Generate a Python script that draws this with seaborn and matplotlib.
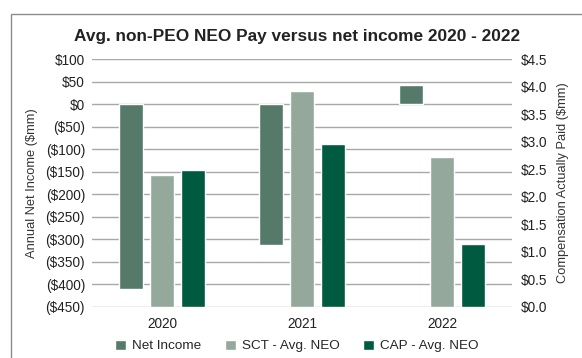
import numpy as np
import pandas as pd
import seaborn as sns
import matplotlib.pyplot as plt
from matplotlib.patches import Rectangle
from matplotlib.ticker import FuncFormatter

years = ['2020', '2021', '2022']
net_income = [-410, -312, 42]        # $mm, left axis
sct_avg_neo = [2.40, 3.92, 2.72]     # $mm, right axis
cap_avg_neo = [2.49, 2.96, 1.15]     # $mm, right axis
series = ['Net Income', 'SCT - Avg. NEO', 'CAP - Avg. NEO']
colors = {'Net Income': '#557a6a', 'SCT - Avg. NEO': '#94a89c', 'CAP - Avg. NEO': '#005a40'}

nan = [np.nan] * len(years)
df_left = pd.DataFrame({
    'year': years * 3,
    'series': np.repeat(series, len(years)),
    'value': net_income + nan + nan,
})
df_right = pd.DataFrame({
    'year': years * 3,
    'series': np.repeat(series, len(years)),
    'value': nan + sct_avg_neo + cap_avg_neo,
})

sns.set_style('white')
plt.rcParams['font.family'] = ['Liberation Sans', 'DejaVu Sans']

fig = plt.figure(figsize=(5.82, 3.58), dpi=100)
ax = fig.add_axes([0.158, 0.1425, 0.722, 0.6925])
ax2 = ax.twinx()

sns.barplot(data=df_left, x='year', y='value', hue='series', hue_order=series, saturation=1,
            palette=colors, order=years, width=0.664, gap=0.226, errorbar=None, ax=ax)
sns.barplot(data=df_right, x='year', y='value', hue='series', hue_order=series, saturation=1,
            palette=colors, order=years, width=0.664, gap=0.226, errorbar=None, ax=ax2)

ax.set_ylim(-450, 100)
ax.set_yticks(range(-450, 101, 50))
ax.yaxis.set_major_formatter(FuncFormatter(lambda v, p: f'${v:.0f}' if v >= 0 else f'(${-v:.0f})'))
ax2.set_ylim(0, 4.5)
ax2.set_yticks([i * 0.5 for i in range(10)])
ax2.yaxis.set_major_formatter(FuncFormatter(lambda v, p: f'${v:.1f}'))

ax.set_axisbelow(True)
ax.grid(axis='y', color='#a8a8a8', linewidth=1)
ax.grid(axis='x', visible=False)
ax2.grid(False)
for a in (ax, ax2):
    for s in a.spines.values():
        s.set_visible(False)

ax.tick_params(axis='y', length=0, pad=5, labelsize=9.8, colors='#222222')
ax.tick_params(axis='x', length=0, pad=7, labelsize=9.8, colors='#222222')
ax2.tick_params(axis='y', length=0, pad=6, labelsize=9.8, colors='#222222')

ax.set_xlabel('')
ax.set_ylabel('Annual Net Income ($mm)', fontsize=9.3, color='#333333')
ax.yaxis.set_label_coords(-0.128, 0.5)
ax2.set_ylabel('Compensation Actually Paid ($mm)', fontsize=9.3, color='#333333')
ax2.yaxis.set_label_coords(1.107, 0.5)

handles, labels = ax.get_legend_handles_labels()
ax.get_legend().remove()
ax2.get_legend().remove()
fig.legend(handles, labels, loc='center', bbox_to_anchor=(297 / 582, 1 - 346 / 358), ncol=3,
           frameon=False, fontsize=9.7, handlelength=0.82, handleheight=0.82,
           handletextpad=0.45, columnspacing=1.75)

fig.text(297 / 582, 1 - 37 / 358, 'Avg. non-PEO NEO Pay versus net income 2020 - 2022',
         ha='center', va='center', fontsize=12.4, fontweight='bold', color='#222222')

fig.patches.append(Rectangle((11 / 582, -0.1), 1.2, 1 - 13.7 / 358 + 0.1, transform=fig.transFigure,
                             fill=False, edgecolor='#8c8c8c', linewidth=1))

fig.savefig('out.png', dpi=100)
